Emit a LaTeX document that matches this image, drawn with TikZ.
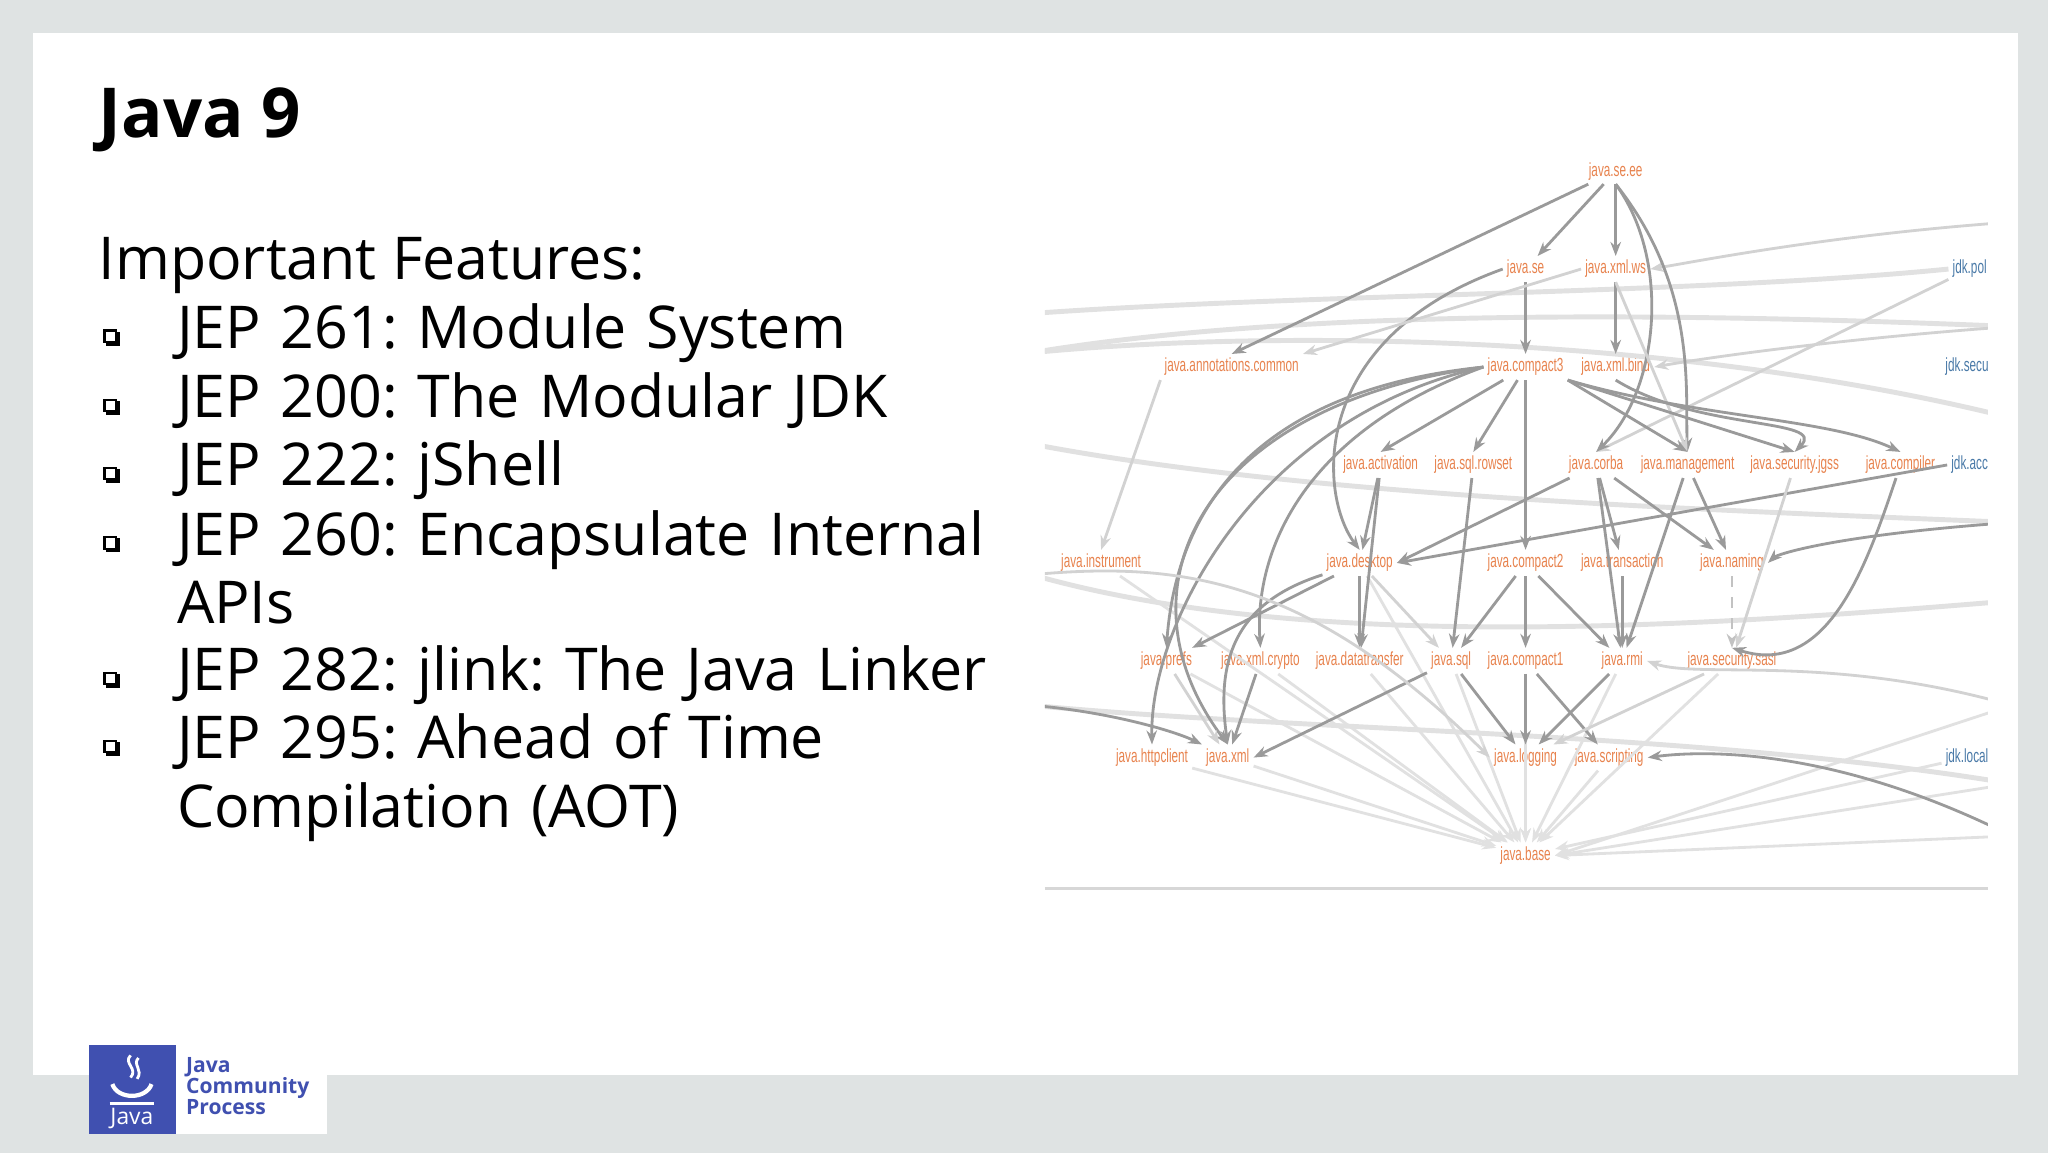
\documentclass[tikz,border=0pt]{standalone}
\usepackage{fontspec}
\setmainfont{Open Sans}
\newfontfamily\lblfont{Liberation Sans}
\usetikzlibrary{arrows.meta}
\frenchspacing
\hyphenpenalty=10000
\exhyphenpenalty=10000
\definecolor{bgc}{HTML}{DFE3E3}
\definecolor{lblc}{HTML}{E8834E}
\definecolor{jdkc}{HTML}{4A7AA8}
\definecolor{jcpblue}{HTML}{4050B0}
\definecolor{edgec}{HTML}{9A9A9A}
\newcommand{\mlbl}[1]{\scalebox{0.62}[1]{#1}}
\tikzset{
  mod/.style={text=lblc,font=\lblfont\fontsize{5.4}{5.4}\selectfont,inner sep=1pt},
  jdk/.style={mod,text=jdkc},
  dep/.style={draw=edgec,line width=0.8pt,-{Stealth[length=4pt,width=3pt]}},
  ldep/.style={draw=edgec!45,line width=0.8pt,-{Stealth[length=4pt,width=3pt]}},
  fdep/.style={draw=edgec!30,line width=1.4pt},
  bul/.style={font=\fontsize{16.8}{19.4}\selectfont,anchor=base west,text width=240pt,align=left,inner sep=0pt},
}
\begin{document}
\begin{tikzpicture}[x=0.1306mm,y=-0.1306mm]
\useasboundingbox (0,0) rectangle (1568,883);
\fill[bgc] (0,0) rectangle (1568,883);
\fill[white] (25,25) rectangle (1545,823);
% title
\node[anchor=base west,inner sep=0pt,font=\bfseries\fontsize{19.6}{20}\selectfont] (title) at (75,105) {Java 9};
\node[anchor=base west,inner sep=0pt,font=\fontsize{16.8}{19.4}\selectfont] (feat) at (75,214) {Important Features:};
\foreach \y/\t [count=\i] in {267/{JEP 261: Module System},320/{JEP 200: The Modular JDK},372/{JEP 222: jShell},425/{JEP 260: Encapsulate Internal APIs},529/{JEP 282: jlink: The Java Linker},581/{JEP 295: Ahead of Time Compilation (AOT)}}{
  \node[bul] (b\i) at (135,\y) {\t};
  \draw[line width=0.6pt,fill=white] (80,\y-14) rectangle (89,\y-5);
  \draw[line width=1pt] (81,\y-3.8) -- (90.2,\y-3.8) -- (90.2,\y-13);
}
% graph
\begin{scope}
\clip (800,110) rectangle (1522,690);
\node[mod] (seee) at (1237,131) {\mlbl{java.se.ee}};
\node[mod] (se) at (1168,206) {\mlbl{java.se}};
\node[mod] (xmlws) at (1237,206) {\mlbl{java.xml.ws}};
\node[jdk] (jpol) at (1508,206) {\mlbl{jdk.pol}};
\node[mod] (ann) at (943,281) {\mlbl{java.annotations.common}};
\node[mod] (c3) at (1168,281) {\mlbl{java.compact3}};
\node[mod] (xmlbind) at (1237,281) {\mlbl{java.xml.bind}};
\node[jdk] (jsec) at (1506,281) {\mlbl{jdk.secu}};
\node[mod] (act) at (1057,356) {\mlbl{java.activation}};
\node[mod] (rowset) at (1128,356) {\mlbl{java.sql.rowset}};
\node[mod] (corba) at (1222,356) {\mlbl{java.corba}};
\node[mod] (mgmt) at (1292,356) {\mlbl{java.management}};
\node[mod] (jgss) at (1374,356) {\mlbl{java.security.jgss}};
\node[mod] (comp) at (1455,356) {\mlbl{java.compiler}};
\node[jdk] (jacc) at (1508,356) {\mlbl{jdk.acc}};
\node[mod] (instr) at (843,431) {\mlbl{java.instrument}};
\node[mod] (desk) at (1041,431) {\mlbl{java.desktop}};
\node[mod] (c2) at (1168,431) {\mlbl{java.compact2}};
\node[mod] (trans) at (1242,431) {\mlbl{java.transaction}};
\node[mod] (naming) at (1326,431) {\mlbl{java.naming}};
\node[mod] (prefs) at (893,506) {\mlbl{java.prefs}};
\node[mod] (xcrypto) at (965,506) {\mlbl{java.xml.crypto}};
\node[mod] (dt) at (1041,506) {\mlbl{java.datatransfer}};
\node[mod] (sql) at (1111,506) {\mlbl{java.sql}};
\node[mod] (c1) at (1168,506) {\mlbl{java.compact1}};
\node[mod] (rmi) at (1242,506) {\mlbl{java.rmi}};
\node[mod] (sasl) at (1326,506) {\mlbl{java.security.sasl}};
\node[mod] (http) at (882,580) {\mlbl{java.httpclient}};
\node[mod] (xml) at (940,580) {\mlbl{java.xml}};
\node[mod] (log) at (1168,580) {\mlbl{java.logging}};
\node[mod] (scr) at (1232,580) {\mlbl{java.scripting}};
\node[jdk] (jloc) at (1506,580) {\mlbl{jdk.local}};
\node[mod] (base) at (1168,655) {\mlbl{java.base}};
\coordinate (R1) at (1540,170);
\coordinate (R2) at (1540,250);
\coordinate (R3) at (1540,320);
\coordinate (R4) at (1540,400);
\coordinate (R5) at (1540,460);
\coordinate (R6) at (1540,540);
\coordinate (R7) at (1540,600);
\coordinate (R8) at (1540,640);
\coordinate (L1) at (790,240);
\coordinate (L2) at (790,270);
\coordinate (L3) at (790,340);
\coordinate (L4) at (790,440);
\coordinate (L5) at (790,540);
% faint long curves
\draw[fdep] (L1) .. controls (1000,225) and (1300,225) .. (jpol.west);
\draw[fdep] (L2) .. controls (1000,235) and (1300,240) .. (R2);
\draw[fdep] (L3) .. controls (1000,380) and (1300,390) .. (R4);
\draw[fdep] (L4) .. controls (1000,500) and (1300,480) .. (R5);
\draw[fdep] (L5) .. controls (1000,560) and (1300,560) .. (R7);
\draw[fdep] (L2) .. controls (1000,250) and (1300,260) .. (R3);
\draw[ldep] (R1) .. controls (1400,180) and (1300,200) .. (xmlws.east);
\draw[ldep] (R2) .. controls (1400,260) and (1300,275) .. (xmlbind.east);
\draw[ldep] (jpol) -- (corba.north);
% base edges
\foreach \n in {instr,http,xml,prefs,xcrypto,dt,sql,c1,rmi,sasl,log,scr,jloc,desk}{
  \draw[ldep,draw=edgec!30] (\n) -- (base);
}
\draw[ldep,draw=edgec!30] (R6) -- (base.east);
\draw[ldep,draw=edgec!30] (R8) -- (base.east);
\draw[ldep,draw=edgec!30] (R7) -- (base.east);
% main edges
\draw[dep] (seee) -- (se);
\draw[dep] (seee) -- (xmlws);
\draw[dep] (seee) -- (ann.north);
\draw[dep] (seee.south) .. controls (1280,200) and (1270,300) .. (corba.north);
\draw[dep] (seee.south) .. controls (1300,220) and (1290,300) .. (mgmt.north);
\draw[dep] (se) -- (c3);
\draw[dep] (se.west) .. controls (1000,260) and (1010,380) .. (desk.north);
\draw[ldep] (xmlws.west) -- (ann.north east);
\draw[dep] (xmlws) -- (xmlbind);
\draw[ldep] (xmlws.south) -- (mgmt.north);
\draw[dep] (c3) -- (act.north);
\draw[dep] (c3) -- (rowset.north);
\draw[dep] (c3) -- (c2);
\draw[dep] (c3.south east) -- (mgmt.north);
\draw[dep] (c3.south east) -- (jgss.north);
\draw[dep] (c3.south east) .. controls (1300,320) and (1400,320) .. (comp.north);
\draw[dep] (c3.west) .. controls (950,300) and (900,400) .. (prefs.north);
\draw[dep] (c3.west) .. controls (920,310) and (850,450) .. (xml.north);
\draw[dep] (c3.west) .. controls (960,320) and (880,480) .. (http.north);
\draw[dep] (c3.west) .. controls (1000,330) and (960,420) .. (xcrypto.north);
\draw[ldep] (ann.south west) -- (instr.north);
\draw[dep] (xmlbind.south) .. controls (1300,330) and (1400,320) .. (jgss.north);
\draw[dep] (act) -- (desk);
\draw[dep] (act) -- (dt);
\draw[dep] (rowset) -- (sql);
\draw[dep] (corba) -- (desk.east);
\draw[dep] (corba) -- (rmi);
\draw[dep] (corba) -- (naming);
\draw[dep] (corba) -- (trans);
\draw[dep] (mgmt) -- (naming);
\draw[dep] (mgmt) -- (rmi);
\draw[dep] (comp) .. controls (1430,430) and (1400,520) .. (sasl.north);
\draw[dep] (jacc.west) -- (desk.east);
\draw[dep] (R4) .. controls (1400,410) and (1360,425) .. (naming.east);
\draw[dep] (desk) -- (dt);
\draw[dep] (desk) .. controls (950,460) and (930,500) .. (xml.north);
\draw[dep] (desk) -- (prefs);
\draw[ldep] (desk) -- (sql);
\draw[dep] (c2) -- (sql);
\draw[dep] (c2) -- (c1);
\draw[dep] (c2) -- (rmi);
\draw[dep] (trans) -- (rmi);
\draw[dep,dashed,draw=edgec!60] (naming) -- (sasl);
\draw[ldep] (jgss) -- (sasl);
\draw[dep] (sql) -- (log);
\draw[dep] (sql) -- (xml.east);
\draw[dep] (c1) -- (log);
\draw[dep] (c1) -- (scr);
\draw[dep] (rmi) -- (log);
\draw[ldep] (sasl) -- (log);
\draw[dep] (xcrypto) -- (xml);
\draw[ldep] (prefs) -- (xml);
\draw[dep] (L5) .. controls (850,545) and (900,560) .. (xml.north west);
\draw[dep] (R8) .. controls (1400,570) and (1300,575) .. (scr.east);
\draw[ldep] (R6) .. controls (1400,500) and (1300,520) .. (rmi.east);
\draw[ldep] (L4) .. controls (900,430) and (1000,440) .. (log.west);
\end{scope}
\draw[edgec!40,line width=0.8pt] (800,680) -- (1522,680);
% logo
\fill[white] (68,800) rectangle (250,868);
\fill[jcpblue] (68,800) rectangle (135,868);
\node[text=white,font=\fontsize{6.5}{6.5}\selectfont,inner sep=0pt] (jv) at (101,856) {Java};
\draw[white,line width=1.2pt] (86,830) .. controls (90,842) and (112,842) .. (116,830);
\draw[white,line width=0.8pt] (84,845) -- (118,845);
\draw[white,line width=0.8pt] (100,808) .. controls (94,814) and (106,818) .. (100,825);
\draw[white,line width=0.8pt] (106,810) .. controls (101,815) and (110,819) .. (105,826);
\node[anchor=north west,text=jcpblue,font=\bfseries\fontsize{6}{6}\selectfont,align=left,inner sep=0pt] (jcp) at (142,809) {Java\\Community\\Process};
\end{tikzpicture}
\end{document}
